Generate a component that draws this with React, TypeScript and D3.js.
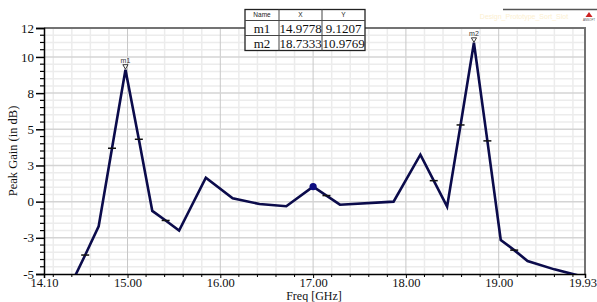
import React, { useRef, useEffect } from 'react';
import * as d3 from 'd3';

// sweep points (GHz) and peak gain (dB)
const freqs = [14.4, 14.544, 14.689, 14.833, 14.978, 15.122, 15.267, 15.411, 15.556, 15.844, 16.133, 16.422, 16.711, 17.0, 17.144, 17.289, 17.867, 18.156, 18.3, 18.444, 18.589, 18.733, 18.878, 19.022, 19.167, 19.311, 19.6, 19.889];
const gains = [-5.6, -3.69, -1.7, 3.69, 9.12, 4.31, -0.64, -1.3, -2.0, 1.66, 0.23, -0.16, -0.32, 1.04, 0.42, -0.21, 0.0, 3.25, 1.45, -0.35, 5.3, 10.98, 4.2, -2.65, -3.35, -4.1, -4.68, -5.15];

// points that carry the small dash symbol
const symbolFreqs = [14.544, 14.833, 15.122, 15.411, 17.144, 18.3, 18.589, 18.878, 19.167];
const dotFreq = 17.0;

const markerNames = ['m1', 'm2'];
const markerX = [14.9778, 18.7333];
const markerY = [9.1207, 10.9769];

const xTickValues = [14.1, 15, 16, 17, 18, 19, 19.93];
const yTickValues = [-5, -2.5, 0, 2.5, 5, 7.5, 10, 12];
const yTickLabels = ['-5', '-3', '0', '3', '5', '8', '10', '12'];

const serif = '"Liberation Serif", "Times New Roman", serif';
const sans = '"Liberation Sans", Arial, sans-serif';

const App = () => {
  const svgRef = useRef<SVGSVGElement | null>(null);

  useEffect(() => {
    const svg = d3.select(svgRef.current);
    svg.selectAll('*').remove();

    const left = 44, right = 585, top = 28, bottom = 274;

    const x = d3.scaleLinear().domain([14.1, 19.93]).range([left, right]);
    const y = d3.scaleLinear().domain([-5, 12]).range([bottom, top]);

    // grid
    const grid = svg.append('g');
    const minorX = d3.range(14.2, 19.9, 0.2).filter(v => Math.abs(v - Math.round(v)) > 0.01);
    grid.selectAll('line.mx').data(minorX).join('line')
      .attr('x1', d => x(d)).attr('x2', d => x(d))
      .attr('y1', top).attr('y2', bottom)
      .attr('stroke', '#ececec').attr('stroke-width', 1.5);
    const minorY = d3.range(-4.5, 12, 0.5).filter(v => !yTickValues.includes(v));
    grid.selectAll('line.my').data(minorY).join('line')
      .attr('x1', left).attr('x2', right)
      .attr('y1', d => y(d)).attr('y2', d => y(d))
      .attr('stroke', '#ececec').attr('stroke-width', 1.5);
    grid.selectAll('line.Mx').data([15, 16, 17, 18, 19]).join('line')
      .attr('x1', d => x(d)).attr('x2', d => x(d))
      .attr('y1', top).attr('y2', bottom)
      .attr('stroke', '#c8c8c8').attr('stroke-width', 1);
    grid.selectAll('line.My').data(yTickValues.slice(1, -1)).join('line')
      .attr('x1', left).attr('x2', right)
      .attr('y1', d => y(d)).attr('y2', d => y(d))
      .attr('stroke', '#d4d4d4').attr('stroke-width', 1.5);

    // frame: grey top/right, black axes
    svg.append('path')
      .attr('d', `M${left},${top}H${right}V${bottom}`)
      .attr('fill', 'none').attr('stroke', '#737373').attr('stroke-width', 2);

    const yAxis = svg.append('g')
      .attr('transform', `translate(${left},0)`)
      .call(d3.axisLeft(y).tickValues(yTickValues).tickSize(8)
        .tickFormat((_, i) => yTickLabels[i]));
    yAxis.select('.domain').attr('stroke', '#000').attr('stroke-width', 1.5);
    yAxis.selectAll('.tick line').attr('stroke-width', 1.5);
    yAxis.selectAll('.tick text').attr('font-family', serif).attr('font-size', 13)
      .attr('fill', '#111').attr('x', -10);
    svg.append('g').selectAll('line').data(minorY).join('line')
      .attr('x1', left - 4).attr('x2', left)
      .attr('y1', d => y(d)).attr('y2', d => y(d))
      .attr('stroke', '#000').attr('stroke-width', 1.2);

    const xAxis = svg.append('g')
      .attr('transform', `translate(0,${bottom})`)
      .call(d3.axisBottom(x).tickValues(xTickValues).tickSize(4).tickFormat(d => (+d).toFixed(2)));
    xAxis.select('.domain').attr('stroke', '#000').attr('stroke-width', 1.5);
    xAxis.selectAll('.tick text').attr('font-family', serif).attr('font-size', 12.5)
      .attr('fill', '#111').attr('y', 4)
      .attr('dx', (_, i) => (i === xTickValues.length - 1 ? -2.5 : 0));
    svg.append('g').selectAll('line').data(minorX).join('line')
      .attr('x1', d => x(d)).attr('x2', d => x(d))
      .attr('y1', bottom).attr('y2', bottom + 3)
      .attr('stroke', '#000').attr('stroke-width', 1);

    // axis titles
    svg.append('text')
      .attr('x', (left + right) / 2 - 0.5).attr('y', 300)
      .attr('text-anchor', 'middle')
      .attr('font-family', serif).attr('font-size', 12).attr('fill', '#111')
      .text('Freq [GHz]');
    svg.append('text')
      .attr('transform', `translate(14,${(top + bottom) / 2}) rotate(-90)`)
      .attr('text-anchor', 'middle').attr('dominant-baseline', 'middle')
      .attr('font-family', serif).attr('font-size', 12.5).attr('fill', '#111')
      .text('Peak Gain (in dB)');

    // trace
    svg.append('clipPath').attr('id', 'plot-clip')
      .append('rect').attr('x', left).attr('y', top).attr('width', right - left).attr('height', bottom - top);

    const pts = freqs.map((f, i) => [f, gains[i]] as [number, number]);
    const line = d3.line<[number, number]>().x(d => x(d[0])).y(d => y(d[1]));
    const trace = svg.append('g').attr('clip-path', 'url(#plot-clip)');
    trace.append('path')
      .datum(pts)
      .attr('fill', 'none')
      .attr('stroke', '#0b0b4b')
      .attr('stroke-width', 2.6)
      .attr('stroke-linejoin', 'miter')
      .attr('d', line);

    const gainAt = (f: number) => gains[freqs.findIndex(v => Math.abs(v - f) < 1e-6)];

    trace.selectAll('line.sym').data(symbolFreqs).join('line')
      .attr('x1', d => x(d) - 4).attr('x2', d => x(d) + 4)
      .attr('y1', d => y(gainAt(d))).attr('y2', d => y(gainAt(d)))
      .attr('stroke', '#111').attr('stroke-width', 1.5);

    trace.append('circle')
      .attr('cx', x(dotFreq)).attr('cy', y(gainAt(dotFreq)))
      .attr('r', 3.6).attr('fill', '#0d0d80');

    // markers
    markerNames.forEach((name, i) => {
      const mx = x(markerX[i]);
      const my = y(markerY[i]);
      svg.append('path')
        .attr('d', `M${mx - 2.6},${my - 5}L${mx + 2.6},${my - 5}L${mx},${my - 0.5}Z`)
        .attr('fill', '#fff').attr('stroke', '#222').attr('stroke-width', 0.9);
      svg.append('text')
        .attr('x', mx).attr('y', my - 6.5)
        .attr('text-anchor', 'middle')
        .attr('font-family', sans).attr('font-size', 7).attr('fill', '#333')
        .text(name);
    });

    // marker table
    const tX = 245, tY = 9.5;
    const colW = [34, 43, 43];
    const rowH = [11, 15, 15];
    const table = svg.append('g');
    table.append('rect')
      .attr('x', tX).attr('y', tY)
      .attr('width', d3.sum(colW)).attr('height', d3.sum(rowH))
      .attr('fill', '#fff').attr('stroke', '#222').attr('stroke-width', 1.3);
    const colX = colW.map((_, i) => tX + d3.sum(colW.slice(0, i)));
    const rowY = rowH.map((_, i) => tY + d3.sum(rowH.slice(0, i)));
    colX.slice(1).forEach(cx => table.append('line')
      .attr('x1', cx).attr('x2', cx).attr('y1', tY).attr('y2', tY + d3.sum(rowH))
      .attr('stroke', '#444').attr('stroke-width', 1));
    rowY.slice(1).forEach(ry => table.append('line')
      .attr('x1', tX).attr('x2', tX + d3.sum(colW)).attr('y1', ry).attr('y2', ry)
      .attr('stroke', '#444').attr('stroke-width', 1));
    const header = ['Name', 'X', 'Y'];
    header.forEach((h, c) => table.append('text')
      .attr('x', colX[c] + colW[c] / 2).attr('y', rowY[0] + rowH[0] / 2 + 2.3)
      .attr('text-anchor', 'middle')
      .attr('font-family', sans).attr('font-size', 6.5).attr('fill', '#222')
      .text(h));
    markerNames.forEach((name, r) => {
      const cells = [name, markerX[r].toFixed(4), markerY[r].toFixed(4)];
      cells.forEach((c, ci) => table.append('text')
        .attr('x', colX[ci] + colW[ci] / 2).attr('y', rowY[r + 1] + rowH[r + 1] / 2 + 4.5)
        .attr('text-anchor', 'middle')
        .attr('font-family', serif).attr('font-size', 13).attr('fill', '#111')
        .text(c));
    });

    // title line + faint design name + logo, top right
    svg.append('line')
      .attr('x1', 503).attr('x2', 597).attr('y1', 9.5).attr('y2', 9.5)
      .attr('stroke', '#555').attr('stroke-width', 1.5);
    svg.append('text')
      .attr('x', 524).attr('y', 19)
      .attr('text-anchor', 'middle')
      .attr('font-family', sans).attr('font-size', 7).attr('fill', '#fcefd0')
      .text('Design_Prototype_Sort_Slot');
    svg.append('path')
      .attr('d', 'M589,12L592.5,17L585.5,17Z')
      .attr('fill', '#c22');
    svg.append('text')
      .attr('x', 589).attr('y', 20.5)
      .attr('text-anchor', 'middle')
      .attr('font-family', sans).attr('font-size', 3).attr('fill', '#555')
      .text('ANSOFT');
  }, []);

  return (
    <svg ref={svgRef} width={597} height={302}
      style={{ position: 'absolute', left: 0, top: 0, background: '#fff' }} />
  );
};

export default App;
